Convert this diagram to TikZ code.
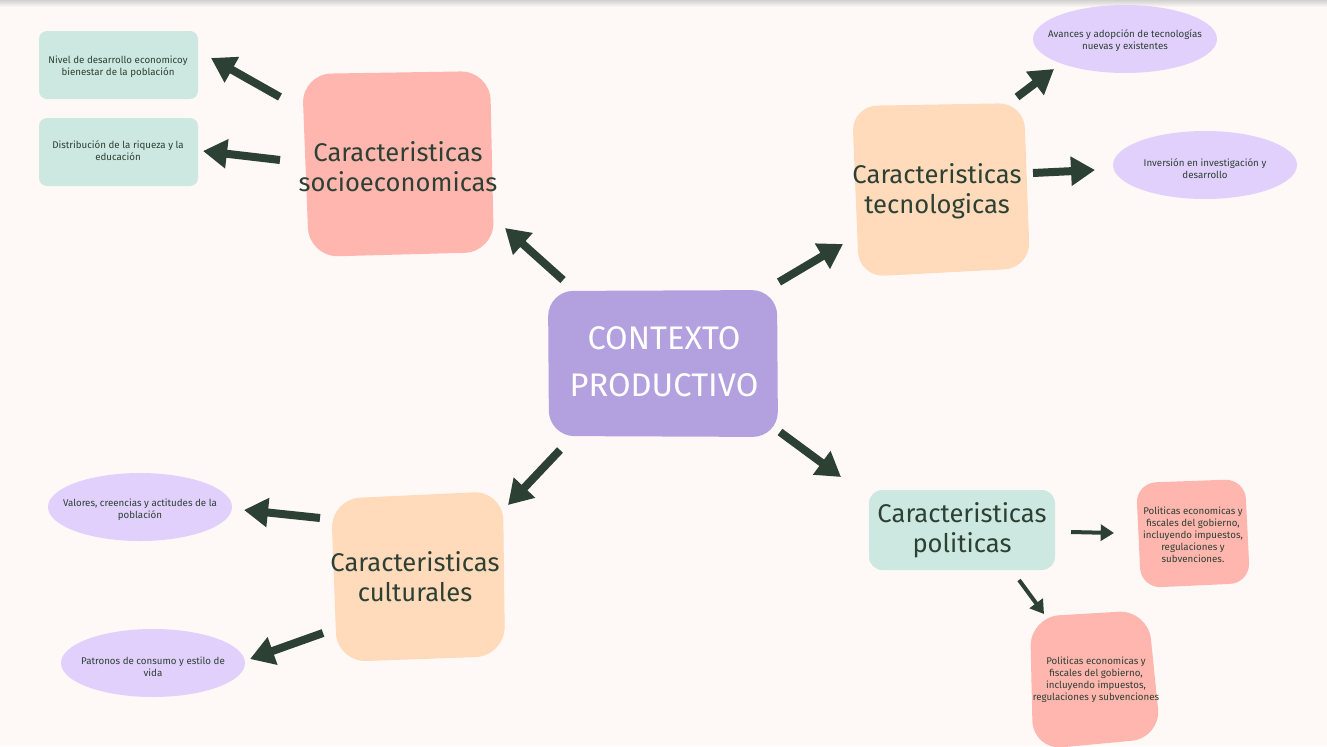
\documentclass[tikz,border=0pt]{standalone}
\usepackage{fontspec}
\setmainfont{Fira Sans}
\usetikzlibrary{arrows.meta,shapes.geometric}
\definecolor{bg}{HTML}{FEF9F6}
\definecolor{ink}{HTML}{2D4034}
\definecolor{tealbox}{HTML}{CDE8E1}
\definecolor{pinkbox}{HTML}{FFB6AE}
\definecolor{peachbox}{HTML}{FFDABB}
\definecolor{purpbox}{HTML}{B3A0DE}
\definecolor{lilac}{HTML}{E1D0FC}
\begin{document}
\begin{tikzpicture}[x=0.75pt,y=-0.75pt,
  bigarrow/.style={draw=ink, line width=6pt, -{Triangle[length=18pt,width=21pt]}},
  smallarrow/.style={draw=ink, line width=3pt, -{Triangle[length=10pt,width=12pt]}},
  small/.style={text=ink, align=center, font=\fontsize{7.3}{9}\selectfont},
  title/.style={text=ink, align=center, font=\fontsize{19.2}{22.5}\selectfont},
  oval/.style={ellipse, fill=lilac, minimum width=138pt, minimum height=51pt, inner sep=0pt}]
\useasboundingbox (0,0) rectangle (1327,746);
\fill[bg] (0,0) rectangle (1327,746);
\shade[top color=black!18, bottom color=bg] (0,0) rectangle (1327,7);

% blobs
\fill[tealbox, rounded corners=6pt] (39,31) rectangle (198,99);
\fill[tealbox, rounded corners=6pt] (39,118) rectangle (198,186);
\fill[pinkbox, rounded corners=22pt] (302,74) -- (490,71) -- (494,252) -- (309,257) -- cycle;
\fill[purpbox, rounded corners=19pt] (548,291) -- (777,290) -- (778,437) -- (549,436) -- cycle;
\fill[peachbox, rounded corners=19pt] (852,106) -- (1024,103) -- (1030,268) -- (859,277) -- cycle;
\fill[peachbox, rounded corners=22pt] (331,499) -- (503,491) -- (505,656) -- (337,662) -- cycle;
\fill[tealbox, rounded corners=10pt] (869,490) rectangle (1055,570);
\fill[pinkbox, rounded corners=15pt] (1136,483) -- (1245,479) -- (1250,583) -- (1141,588) -- cycle;
\fill[pinkbox, rounded corners=22pt] (1030,617) -- (1148,610) -- (1161,738) -- (1033,750) -- cycle;

% text nodes
\node[small] (n1) at (118,67) {Nivel de desarrollo economicoy\\bienestar de la población};
\node[small] (n2) at (118,151) {Distribución de la riqueza y la\\educación};
\node[title] (soc) at (398,167) {Caracteristicas\\socioeconomicas};
\node[text=white, align=center, font=\fontsize{24.5}{35}\selectfont] (ctx) at (664,362) {CONTEXTO\\PRODUCTIVO};
\node[title] (tec) at (937,191) {Caracteristicas\\tecnologicas};
\node[title] (cul) at (415,577) {Caracteristicas\\culturales};
\node[title] (pol) at (962,530) {Caracteristicas\\politicas};
\node[oval] (av) at (1125,39) {};
\node[small] (avt) at (1125,41) {Avances y adopción de tecnologías\\nuevas y existentes};
\node[oval] (inv) at (1205,165) {};
\node[small] (invt) at (1205,169) {Inversión en investigación y\\desarrollo};
\node[oval] (val) at (140,507) {};
\node[small] (valt) at (140,510) {Valores, creencias y actitudes de la\\población};
\node[oval] (pat) at (153,663) {};
\node[small] (patt) at (153,667) {Patronos de consumo y estilo de\\vida};
\node[small] (p1) at (1193,535) {Politicas economicas y\\fiscales del gobierno,\\incluyendo impuestos,\\regulaciones y\\subvenciones.};
\node[small] (p2) at (1096,680) {Politicas economicas y\\fiscales del gobierno,\\incluyendo impuestos,\\regulaciones y subvenciones};

% arrow endpoints
\coordinate (a1s) at (563,280); \coordinate (a1e) at (505,228);
\coordinate (a2s) at (779,282); \coordinate (a2e) at (843,244);
\coordinate (a3s) at (780,432); \coordinate (a3e) at (841,477);
\coordinate (a4s) at (560,450); \coordinate (a4e) at (508,505);
\coordinate (b1s) at (280,97);  \coordinate (b1e) at (211,58);
\coordinate (b2s) at (280,160); \coordinate (b2e) at (203,151);
\coordinate (c1s) at (1017,97); \coordinate (c1e) at (1054,69);
\coordinate (c2s) at (1033,173); \coordinate (c2e) at (1095,170);
\coordinate (d1s) at (320,518); \coordinate (d1e) at (244,510);
\coordinate (d2s) at (323,633); \coordinate (d2e) at (250,659);
\coordinate (e1s) at (1071,532); \coordinate (e1e) at (1114,533);
\coordinate (e2s) at (1019,580); \coordinate (e2e) at (1044,614);

\draw[bigarrow] (a1s) -- (a1e);
\draw[bigarrow] (a2s) -- (a2e);
\draw[bigarrow] (a3s) -- (a3e);
\draw[bigarrow] (a4s) -- (a4e);
\draw[bigarrow] (b1s) -- (b1e);
\draw[bigarrow] (b2s) -- (b2e);
\draw[bigarrow] (c1s) -- (c1e);
\draw[bigarrow] (c2s) -- (c2e);
\draw[bigarrow] (d1s) -- (d1e);
\draw[bigarrow] (d2s) -- (d2e);
\draw[smallarrow] (e1s) -- (e1e);
\draw[smallarrow] (e2s) -- (e2e);
\end{tikzpicture}
\end{document}
